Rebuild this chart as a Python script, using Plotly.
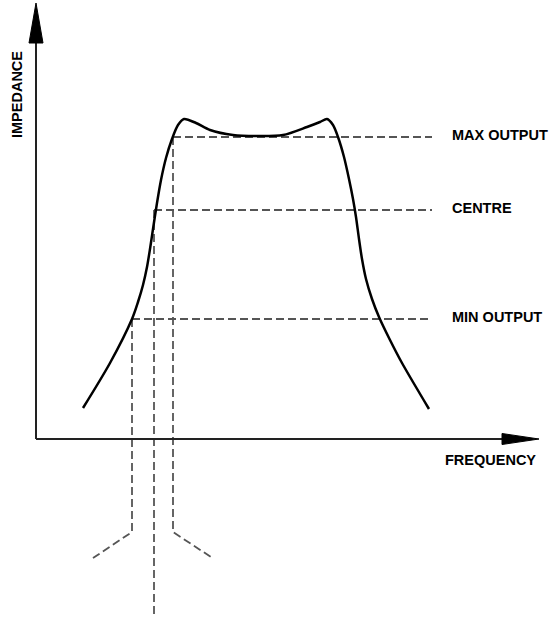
import plotly.graph_objects as go

# Impedance curve (frequency, impedance), origin at axis intersection
freq = [47, 74, 96, 102, 107, 111, 114, 117, 121, 125, 130, 136, 142, 148, 160, 174, 197, 222, 247, 271, 284, 291, 297, 302, 308, 313, 317, 320, 323, 326, 330, 336, 343, 354, 366, 393]
impedance = [31, 76, 120, 137, 154, 172, 190, 210, 236, 259, 281, 300, 314, 320, 316, 309, 304, 303, 304, 312, 317, 320, 314, 302, 282, 260, 240, 222, 200, 180, 160, 140, 122, 99, 76, 30]

# Reference levels
level_names = ["MAX OUTPUT", "CENTRE", "MIN OUTPUT"]
level_values = [302, 229, 120]
level_start_freq = [137, 118, 96]

# Projection lines below the frequency axis
drop_freq = [137, 118, 96]
drop_bottom = [-93, -176, -93]
splay_end_freq = [175, None, 57]
splay_end_imp = [-118, None, -119]

X_MIN, X_MAX = -36, 515
Y_MIN, Y_MAX = -184, 439
LINE_END = 396
LABEL_X = 414

DASH_COLOR = "#555555"
DASH = "8px,4px"
FONT = dict(family="Liberation Sans, Arial, sans-serif", size=14.5, color="black", weight=700)

fig = go.Figure()

# Horizontal level lines
for v, s in zip(level_values, level_start_freq):
    fig.add_trace(go.Scatter(x=[s, LINE_END], y=[v, v], mode="lines",
                             line=dict(color=DASH_COLOR, width=1.8, dash=DASH),
                             hoverinfo="skip", showlegend=False))

# Vertical drop lines
for f, v, b, ef, ei in zip(drop_freq, level_values, drop_bottom, splay_end_freq, splay_end_imp):
    xs = [f, f]
    ys = [v, b]
    if ef is not None:
        xs.append(ef)
        ys.append(ei)
    fig.add_trace(go.Scatter(x=xs, y=ys, mode="lines",
                             line=dict(color=DASH_COLOR, width=1.8, dash=DASH),
                             hoverinfo="skip", showlegend=False))

# Impedance curve
fig.add_trace(go.Scatter(x=freq, y=impedance, mode="lines",
                         line=dict(color="black", width=2.5, shape="spline", smoothing=0.8),
                         hoverinfo="skip", showlegend=False))

# Axes lines with arrowheads
Y_TIP, Y_HEAD = 436, 396
X_TIP, X_HEAD = 503, 466
fig.add_trace(go.Scatter(x=[0, 0], y=[0, Y_HEAD], mode="lines",
                         line=dict(color="#222", width=2), hoverinfo="skip", showlegend=False))
fig.add_trace(go.Scatter(x=[0, X_HEAD], y=[0, 0], mode="lines",
                         line=dict(color="#222", width=2), hoverinfo="skip", showlegend=False))
fig.add_trace(go.Scatter(x=[-7, 0, 7, -7], y=[Y_HEAD, Y_TIP, Y_HEAD, Y_HEAD], mode="lines",
                         fill="toself", fillcolor="black", line=dict(color="black", width=1),
                         hoverinfo="skip", showlegend=False))
fig.add_trace(go.Scatter(x=[X_HEAD, X_TIP, X_HEAD, X_HEAD], y=[-5.5, 0, 5.5, -5.5], mode="lines",
                         fill="toself", fillcolor="black", line=dict(color="black", width=1),
                         hoverinfo="skip", showlegend=False))

# Labels
for name, v in zip(level_names, level_values):
    fig.add_annotation(x=LABEL_X, y=v + 2, text=name, showarrow=False,
                       xanchor="left", yanchor="middle", font=FONT)
fig.add_annotation(x=502, y=-21, text="FREQUENCY", showarrow=False,
                   xanchor="right", yanchor="middle", font=FONT)
fig.add_annotation(x=-19, y=344, text="IMPEDANCE", showarrow=False, textangle=-90,
                   xanchor="center", yanchor="middle", font=FONT)

fig.update_layout(
    width=551, height=623,
    margin=dict(l=0, r=0, t=0, b=0),
    paper_bgcolor="white", plot_bgcolor="white",
    xaxis=dict(range=[X_MIN, X_MAX], visible=False, fixedrange=True),
    yaxis=dict(range=[Y_MIN, Y_MAX], visible=False, fixedrange=True),
)

fig.write_html("out.html", config={"displayModeBar": False},
               post_script="document.body.style.margin='0px';")
